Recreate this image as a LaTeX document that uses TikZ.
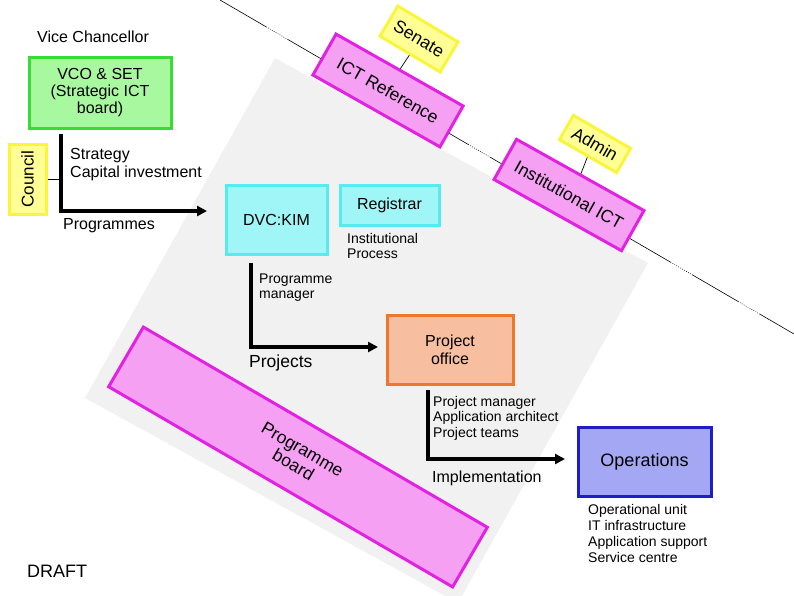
\documentclass[tikz,border=0pt]{standalone}
\usepackage{fontspec}
\setmainfont{Liberation Sans}
\usetikzlibrary{arrows.meta}
\definecolor{bggray}{RGB}{241,241,241}
\definecolor{grfill}{RGB}{168,248,160}
\definecolor{grline}{RGB}{55,220,55}
\definecolor{yefill}{RGB}{255,255,150}
\definecolor{yeline}{RGB}{250,245,60}
\definecolor{cyfill}{RGB}{160,246,246}
\definecolor{cyline}{RGB}{85,235,240}
\definecolor{orfill}{RGB}{248,190,160}
\definecolor{orline}{RGB}{238,118,45}
\definecolor{blfill}{RGB}{164,168,244}
\definecolor{blline}{RGB}{30,30,200}
\definecolor{pkfill}{RGB}{246,160,244}
\definecolor{pkline}{RGB}{225,35,225}
\newcommand\fsz[2]{\fontsize{#1}{#2}\selectfont}
\begin{document}
\begin{tikzpicture}[x=1pt,y=-1pt,
  box/.style={draw, line width=3pt, inner sep=0pt, align=center, font=\fsz{16}{17}},
  wh/.style 2 args={minimum width=#1pt, minimum height=#2pt},
  greenbox/.style={box, fill=grfill, draw=grline},
  yellowbox/.style={box, fill=yefill, draw=yeline},
  cyanbox/.style={box, fill=cyfill, draw=cyline},
  orangebox/.style={box, fill=orfill, draw=orline},
  bluebox/.style={box, fill=blfill, draw=blline},
  pinkbox/.style={box, fill=pkfill, draw=pkline, font=\fsz{17.5}{18}},
  lbl/.style={inner sep=0pt, anchor=base west, align=left, font=\fsz{16}{18}},
  small/.style={font=\fsz{14}{15.5}},
  flow/.style={line width=3.2pt, -{Triangle[length=10pt,width=10pt]}},
  tie/.style={line width=0.7pt},
  diag/.style={line width=0.6pt, dash pattern=on 54pt off 1.5pt on 0.75pt off 1.5pt on 0.75pt off 1.5pt on 0.75pt off 1.5pt on 0.75pt off 1.5pt on 0.75pt off 1.5pt on 0.75pt off 1.5pt on 0.75pt off 1.5pt on 0.75pt off 1.5pt on 0.75pt off 1.5pt on 0.75pt off 1.5pt},
]
\useasboundingbox (0,0) rectangle (794,595);
\begin{scope}
\clip (0,0) rectangle (794,595);
\fill[bggray] (275,58) -- (648,263) -- (458,603) -- (85,398) -- cycle;
\coordinate (l1) at (220,0);
\coordinate (l2) at (794,334);
\draw[diag] (l1) -- (l2);
\end{scope}

% left column (multi-line labels: y is the baseline of the last line)
\node[lbl] (vc) at (37,42) {Vice Chancellor};
\node[greenbox, wh={142}{71}] (vco) at (100,92.5) {VCO \& SET\\(Strategic ICT\\board)};
\node[yellowbox, wh={70}{37}, rotate=90, font=\fsz{17}{17}] (council) at (27.5,179) {Council};
\node[lbl] (strat) at (70,177) {Strategy\\Capital investment};
\node[lbl] (progs) at (63,229) {Programmes};

% middle
\node[cyanbox, wh={101}{69}] (dvc) at (276.5,219.5) {DVC:KIM};
\node[cyanbox, wh={99}{40}] (reg) at (389.5,205) {Registrar};
\node[lbl, font=\fsz{14}{14.5}] (instp) at (347,258) {Institutional\\Process};
\node[lbl, font=\fsz{14}{15}] (pm) at (259,298) {Programme\\manager};
\node[lbl, font=\fsz{17.5}{18}] (projs) at (249,367) {Projects};
\node[orangebox, wh={126}{69}, font=\fsz{16}{18}] (po) at (450,349.5) {Project\\office};
\node[lbl, small] (team) at (433,437) {Project manager\\Application architect\\Project teams};
\node[lbl] (impl) at (432,482) {Implementation};
\node[bluebox, wh={133}{69}, font=\fsz{18}{18}] (ops) at (644.5,461.5) {Operations};
\node[lbl, font=\fsz{14}{16}] (opsd) at (588,562) {Operational unit\\IT infrastructure\\Application support\\Service centre};
\node[lbl, font=\fsz{18}{18}] (draft) at (27,577) {DRAFT};

% rotated boxes
\node[pinkbox, wh={146}{47}, rotate=-29.5] (ictref) at (388,90.5) {ICT Reference};
\node[yellowbox, wh={70}{35}, rotate=-30.8, font=\fsz{17.5}{18}] (senate) at (419,39) {Senate};
\node[yellowbox, wh={66}{28}, rotate=-30, font=\fsz{17.5}{18}] (admin) at (595,144) {Admin};
\node[pinkbox, wh={146}{46}, rotate=-29.2] (instict) at (569,195) {Institutional ICT};
\node[pinkbox, wh={398}{69}, rotate=-30.2] (pboard) at (298,457) {Programme\\board};

% ties
\draw[tie] (senate.south) -- (ictref.north);
\draw[tie] (admin.south) -- (instict.north);

% flows
\coordinate (vcoOut) at (61,134);
\coordinate (progEnd) at (207,211);
\draw[flow] (vcoOut) |- (progEnd);
\draw[tie] (council.south) -- (council.south -| vcoOut);
\coordinate (pmStart) at (251,263);
\coordinate (projEnd) at (378,347);
\draw[flow] (pmStart) |- (projEnd);
\coordinate (poStart) at (428,390);
\coordinate (implEnd) at (565,459);
\draw[flow] (poStart) |- (implEnd);
\end{tikzpicture}
\end{document}
